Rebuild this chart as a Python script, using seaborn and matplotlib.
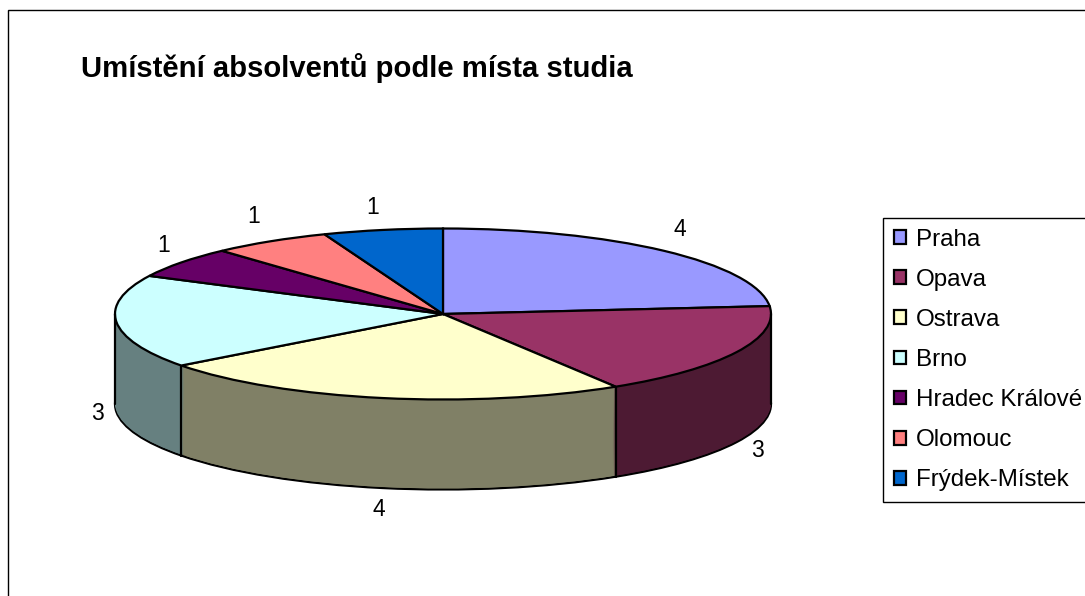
import numpy as np
import matplotlib
matplotlib.use('Agg')
import matplotlib.pyplot as plt
from matplotlib.patches import Patch, Rectangle
import seaborn as sns

cities = ['Praha', 'Opava', 'Ostrava', 'Brno', 'Hradec Králové', 'Olomouc', 'Frýdek-Místek']
counts = [4, 3, 4, 3, 1, 1, 1]
hex_colors = ['#9999FF', '#993366', '#FFFFCC', '#CCFFFF', '#660066', '#FF8080', '#0066CC']
title = 'Umístění absolventů podle místa studia'

# pie geometry in pixels
W, H = 1085, 596
cx, cy, rx, ry, depth_px = 443, 314, 328, 85.5, 90
label_off = [(16, -21), (21, 8), (-4, 21), (-19, 2), (-18, -17), (-17, -25), (-10, -22)]

sns.set_theme(style='white')
plt.rcParams['font.family'] = ['Liberation Sans', 'DejaVu Sans']

palette = sns.color_palette(hex_colors)
side_colors = [tuple(0.5 * np.array(c)) for c in palette]

fig = plt.figure(figsize=(W / 100, H / 100), dpi=100, facecolor='white')
ax = fig.add_axes([0, 0, 1, 1])

depth = depth_px / ry
lw = 1.6

# bottom rim first, then stacked darker pies for the wall, then the top
ax.pie(counts, colors=side_colors, startangle=90, counterclock=False, center=(0, -depth),
       wedgeprops={'edgecolor': 'black', 'linewidth': lw})
for d in np.linspace(depth, 0, 90)[1:]:
    ax.pie(counts, colors=side_colors, startangle=90, counterclock=False, center=(0, -d),
           wedgeprops={'edgecolor': 'none', 'linewidth': 0})

# wall edges
fracs = np.cumsum(counts) / np.sum(counts)
edge_angles = np.pi / 2 - 2 * np.pi * fracs
for a in edge_angles:
    if np.sin(a) < 0:
        ax.plot([np.cos(a)] * 2, [np.sin(a), np.sin(a) - depth], color='black', lw=lw)
for side in (-1, 1):
    ax.plot([side, side], [0, -depth], color='black', lw=lw)

wedges, _ = ax.pie(counts, colors=palette, startangle=90, counterclock=False, center=(0, 0),
                   wedgeprops={'edgecolor': 'black', 'linewidth': lw})

ax.set_aspect('auto')
ax.set_xlim(-cx / rx, (W - cx) / rx)
ax.set_ylim((cy - H) / ry, cy / ry)

# value labels next to each slice
mids = np.pi / 2 - 2 * np.pi * (np.cumsum(counts) - np.array(counts) / 2) / np.sum(counts)
for val, m, off in zip(counts, mids, label_off):
    y0 = np.sin(m) - (depth if np.sin(m) < 0 else 0)
    ax.annotate(str(val), (np.cos(m), y0), xytext=(off[0] * 0.72, -off[1] * 0.72),
                textcoords='offset points', ha='center', va='center',
                fontsize=16.5, color='black')

fig.text(81 / W, 1 - 77 / H, title, fontsize=21.1, fontweight='bold', color='black',
         ha='left', va='baseline')

handles = [Patch(facecolor=c, edgecolor='black', linewidth=lw) for c in palette]
leg = fig.legend(handles, cities, loc='upper left', bbox_to_anchor=(883 / W, 1 - 218 / H),
                 fontsize=17.4, frameon=True, fancybox=False, edgecolor='black', framealpha=1,
                 handlelength=0.5, handleheight=0.5, handletextpad=0.42, labelspacing=0.75,
                 borderpad=0.44, borderaxespad=0, labelcolor='black')
leg.get_frame().set_linewidth(1.0)

# chart frame, runs off the right and bottom of the picture
fig.add_artist(Rectangle((7.5 / W, -0.1), 1.2, 1.1 - 10.5 / H, transform=fig.transFigure,
                         fill=False, edgecolor='black', linewidth=1.0))

fig.savefig('out.png', dpi=100)
